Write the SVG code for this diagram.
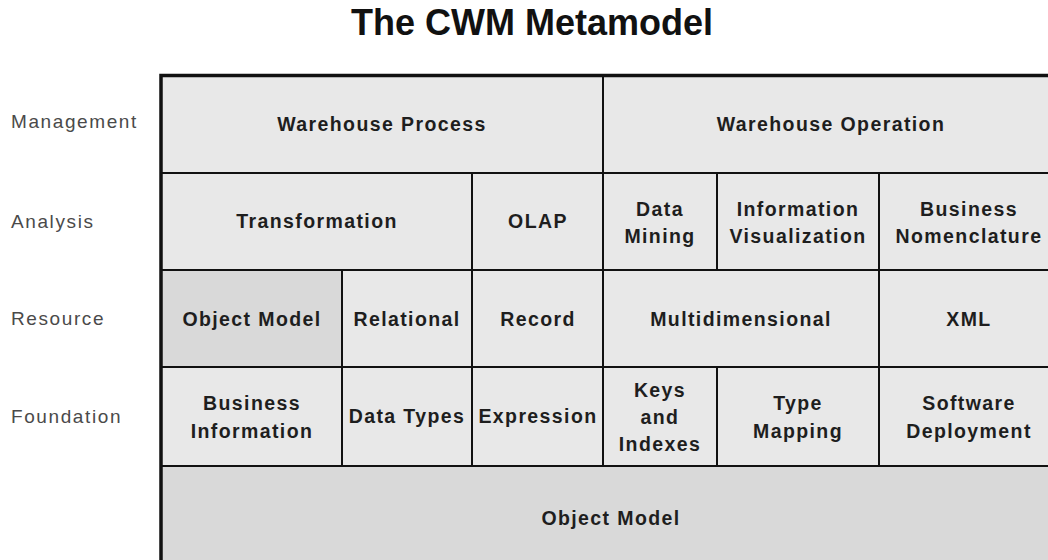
<svg xmlns="http://www.w3.org/2000/svg" width="1048" height="560" viewBox="0 0 1048 560">
  <style>
    .cell { fill: #e8e8e8; stroke: #111; stroke-width: 2; }
    .core { fill: #d9d9d9; stroke: #111; stroke-width: 2; }
    .lbl { font-family: "Liberation Sans", Arial, sans-serif; font-weight: bold; font-size: 19.5px; letter-spacing: 1.4px; fill: #1e1e1e; text-anchor: middle; }
    .row { font-family: "Liberation Sans", Arial, sans-serif; font-size: 19px; letter-spacing: 1.6px; fill: #4a4a4a; }
    .title { font-family: "Liberation Sans", Arial, sans-serif; font-weight: bold; font-size: 36px; fill: #111; text-anchor: middle; }
  </style>
  <rect width="1048" height="560" fill="#fff"/>

  <text class="title" x="532" y="35">The CWM Metamodel</text>

  <!-- layer names -->
  <g id="layer-labels">
    <text class="row" x="11" y="128">Management</text>
    <text class="row" x="11" y="228">Analysis</text>
    <text class="row" x="11" y="325">Resource</text>
    <text class="row" x="11" y="423">Foundation</text>
  </g>

  <!-- Management layer -->
  <g id="warehouse-process"><rect class="cell" x="161" y="75" width="442" height="98"/><text class="lbl" x="382" y="131">Warehouse Process</text></g>
  <g id="warehouse-operation"><rect class="cell" x="603" y="75" width="456" height="98"/><text class="lbl" x="831" y="131">Warehouse Operation</text></g>

  <!-- Analysis layer -->
  <g id="transformation"><rect class="cell" x="161" y="173" width="311" height="97"/><text class="lbl" x="317" y="228">Transformation</text></g>
  <g id="olap"><rect class="cell" x="472" y="173" width="131" height="97"/><text class="lbl" x="538" y="228">OLAP</text></g>
  <g id="data-mining"><rect class="cell" x="603" y="173" width="114" height="97"/><text class="lbl" x="660" y="215.5">Data</text><text class="lbl" x="660" y="242.5">Mining</text></g>
  <g id="information-visualization"><rect class="cell" x="717" y="173" width="162" height="97"/><text class="lbl" x="798" y="215.5">Information</text><text class="lbl" x="798" y="242.5">Visualization</text></g>
  <g id="business-nomenclature"><rect class="cell" x="879" y="173" width="180" height="97"/><text class="lbl" x="969" y="215.5">Business</text><text class="lbl" x="969" y="242.5">Nomenclature</text></g>

  <!-- Resource layer -->
  <g id="object-model-resource"><rect class="core" x="161" y="270" width="181" height="97"/><text class="lbl" x="252" y="326">Object Model</text></g>
  <g id="relational"><rect class="cell" x="342" y="270" width="130" height="97"/><text class="lbl" x="407" y="326">Relational</text></g>
  <g id="record"><rect class="cell" x="472" y="270" width="131" height="97"/><text class="lbl" x="538" y="326">Record</text></g>
  <g id="multidimensional"><rect class="cell" x="603" y="270" width="276" height="97"/><text class="lbl" x="741" y="326">Multidimensional</text></g>
  <g id="xml"><rect class="cell" x="879" y="270" width="180" height="97"/><text class="lbl" x="969" y="326">XML</text></g>

  <!-- Foundation layer -->
  <g id="business-information"><rect class="cell" x="161" y="367" width="181" height="99"/><text class="lbl" x="252" y="410">Business</text><text class="lbl" x="252" y="437.5">Information</text></g>
  <g id="data-types"><rect class="cell" x="342" y="367" width="130" height="99"/><text class="lbl" x="407" y="423">Data Types</text></g>
  <g id="expression"><rect class="cell" x="472" y="367" width="131" height="99"/><text class="lbl" x="538" y="423">Expression</text></g>
  <g id="keys-and-indexes"><rect class="cell" x="603" y="367" width="114" height="99"/><text class="lbl" x="660" y="396.5">Keys</text><text class="lbl" x="660" y="423.5">and</text><text class="lbl" x="660" y="451">Indexes</text></g>
  <g id="type-mapping"><rect class="cell" x="717" y="367" width="162" height="99"/><text class="lbl" x="798" y="410">Type</text><text class="lbl" x="798" y="437.5">Mapping</text></g>
  <g id="software-deployment"><rect class="cell" x="879" y="367" width="180" height="99"/><text class="lbl" x="969" y="410">Software</text><text class="lbl" x="969" y="437.5">Deployment</text></g>

  <!-- Object Model base layer -->
  <g id="object-model-base"><rect class="core" x="161" y="466" width="898" height="110"/><text class="lbl" x="611" y="525">Object Model</text></g>

  <!-- outer frame -->
  <g id="frame" fill="none" stroke="#111" stroke-width="3.5">
    <path d="M161 580 V75.5 H1060"/>
  </g>
</svg>
